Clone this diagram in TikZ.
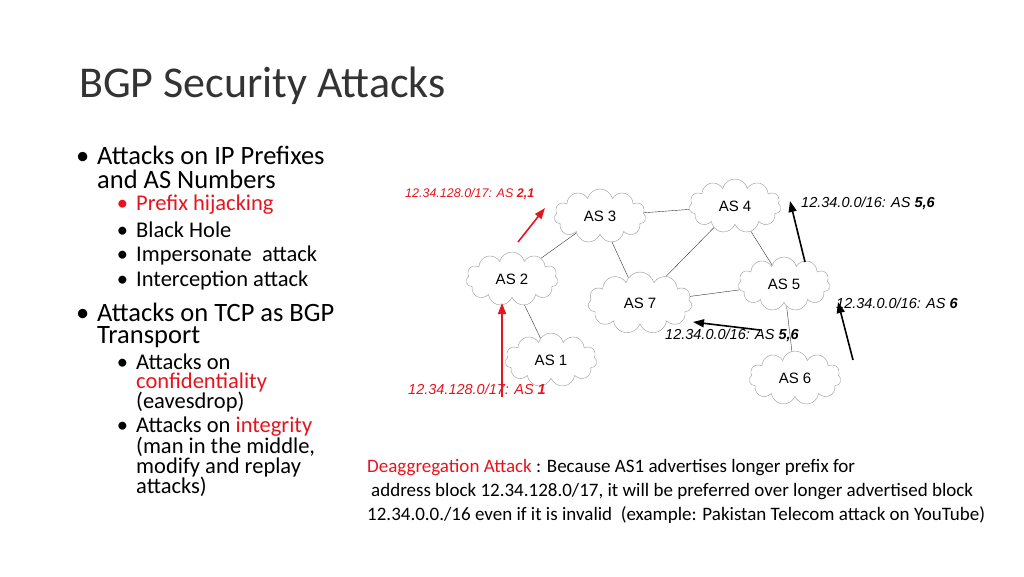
\documentclass[tikz,border=0pt]{standalone}
\usepackage{fontspec}
\setmainfont{Carlito}
\newfontfamily\labelfont{Liberation Sans}
\usetikzlibrary{shapes.symbols,arrows.meta,positioning}
\definecolor{attackred}{RGB}{230,20,30}
\definecolor{cloudgray}{RGB}{150,150,150}
\newcommand{\blt}{\llap{\textbullet\hspace{8pt}}}
\tikzset{
    every node/.style={inner sep=0pt},
    as node/.style={cloud,cloud puffs=11,draw=cloudgray,thin,minimum width=92pt,minimum height=54pt,font=\labelfont\fontsize{15}{15}\selectfont},
    item/.style={anchor=west,font=\fontsize{26.5}{26.5}\selectfont},
    subitem/.style={anchor=west,font=\fontsize{22.5}{22.5}\selectfont},
    route/.style={anchor=west,font=\labelfont\itshape\fontsize{14.5}{14.5}\selectfont},
    link/.style={black!80,thin},
    adv/.style={-{Triangle[length=11pt,width=8pt]},line width=1.6pt}
}
\begin{document}
\begin{tikzpicture}[x=1pt,y=-1pt]
    \useasboundingbox (0,0) rectangle (1024,576);

    \node[anchor=west,font=\fontsize{44}{44}\selectfont,text=black!80] (title) at (79,86) {BGP Security Attacks};

    % bullets
    \node[item] (b1) at (97,155) {\blt Attacks on IP Prefixes};
    \node[item] (b1b) at (97,179) {and AS Numbers};
    \node[subitem,text=attackred] (s1) at (136,205) {\blt Prefix hijacking};
    \node[subitem] (s2) at (136,230) {\blt Black Hole};
    \node[subitem] (s3) at (136,255) {\blt Impersonate\ \ attack};
    \node[subitem] (s4) at (136,280) {\blt Interception attack};
    \node[item] (b2) at (97,312) {\blt Attacks on TCP as BGP};
    \node[item] (b2b) at (97,337) {Transport};
    \node[subitem] (s5) at (136,362) {\blt Attacks on};
    \node[subitem,text=attackred] (s5b) at (136,382) {confidentiality};
    \node[subitem] (s5c) at (136,402) {(eavesdrop)};
    \node[subitem] (s6) at (136,427) {\blt Attacks on \textcolor{attackred}{integrity}};
    \node[subitem] (s6b) at (136,447) {(man in the middle,};
    \node[subitem] (s6c) at (136,467) {modify and replay};
    \node[subitem] (s6d) at (136,487) {attacks)};

    % autonomous systems
    \node[as node] (as3) at (600,216) {AS 3};
    \node[as node] (as4) at (735,206) {AS 4};
    \node[as node] (as2) at (512,279) {AS 2};
    \node[as node,minimum width=104pt,minimum height=62pt] (as7) at (640,303) {AS 7};
    \node[as node] (as5) at (784,284) {AS 5};
    \node[as node] (as1) at (551,360) {AS 1};
    \node[as node] (as6) at (795,378) {AS 6};

    \draw[link] (as3) -- (as4);
    \draw[link] (as3) -- (as2);
    \draw[link] (as3) -- (as7);
    \draw[link] (as4) -- (as7);
    \draw[link] (as4) -- (as5);
    \draw[link] (as7) -- (as5);
    \draw[link] (as2) -- (as1);
    \draw[link] (as5) -- (as6);

    % advertisements
    \node[route,text=attackred,font=\labelfont\itshape\fontsize{12.5}{12.5}\selectfont] (r1) at (405,194) {12.34.128.0/17: AS \textbf{2,1}};
    \node[route,text=attackred] (r2) at (408,389) {12.34.128.0/17: AS \textbf{1}};
    \node[route] (r3) at (801,203) {12.34.0.0/16: AS \textbf{5,6}};
    \node[route] (r4) at (836,303) {12.34.0.0/16: AS \textbf{6}};
    \node[route] (r5) at (665,335) {12.34.0.0/16: AS \textbf{5,6}};

    \coordinate (a1s) at (518,242);
    \coordinate (a1e) at (545,208);
    \coordinate (a2s) at (502,397);
    \coordinate (a2e) at (502,303);
    \coordinate (a3s) at (805,262);
    \coordinate (a3e) at (790,201);
    \coordinate (a4s) at (853,360);
    \coordinate (a4e) at (838,302);
    \coordinate (a5s) at (760,330);
    \coordinate (a5e) at (693,322);
    \draw[adv,attackred] (a1s) -- (a1e);
    \draw[adv,attackred] (a2s) -- (a2e);
    \draw[adv] (a3s) -- (a3e);
    \draw[adv] (a4s) -- (a4e);
    \draw[adv] (a5s) -- (a5e);

    % caption
    \node[anchor=west,font=\fontsize{19}{19}\selectfont] (c1) at (367,468) {\textcolor{attackred}{Deaggregation Attack} : Because AS1 advertises longer prefix for};
    \node[anchor=west,font=\fontsize{19}{19}\selectfont] (c2) at (371,492) {address block 12.34.128.0/17, it will be preferred over longer advertised block};
    \node[anchor=west,font=\fontsize{19}{19}\selectfont] (c3) at (367,515) {12.34.0.0./16 even if it is invalid\ \ (example: Pakistan Telecom attack on YouTube)};
\end{tikzpicture}
\end{document}
